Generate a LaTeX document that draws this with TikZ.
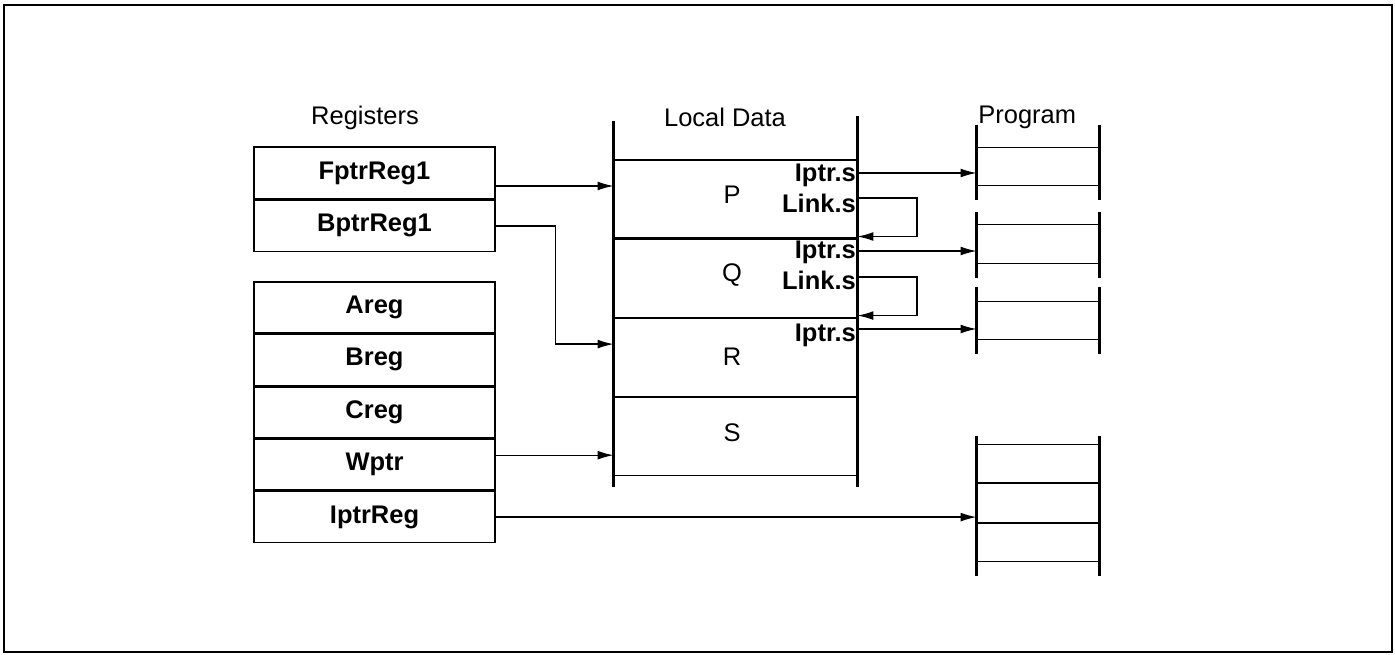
\documentclass[tikz,border=0pt]{standalone}
\usepackage{fontspec}
\setmainfont{Liberation Sans}
\usetikzlibrary{positioning, arrows.meta}
\tikzstyle{reg} = [rectangle, minimum width=4.82cm, minimum height=1.02cm, inner sep=0pt, text centered, draw=black, line width=0.8pt, font=\fontsize{14.5}{17}\selectfont\bfseries]
\tikzstyle{cell} = [rectangle, minimum width=4.86cm, minimum height=1.56cm, inner sep=0pt, draw=black, line width=0.6pt]
\tikzstyle{slot} = [rectangle, minimum width=2.44cm, minimum height=0.77cm, inner sep=0pt, draw=black, line width=0.6pt]
\tikzstyle{field} = [anchor=east, inner sep=0.5pt, font=\fontsize{14.5}{17}\selectfont\bfseries]
\tikzstyle{rail} = [line width=1.2pt]
\tikzstyle{arrow} = [-{Latex[length=9pt,width=5pt]}, line width=0.7pt]

\begin{document}
\begin{tikzpicture}[x=0.02cm, y=-0.02cm, font=\fontsize{14.5}{17}\selectfont, node distance=0cm]
	\useasboundingbox (0,0) rectangle (1395,655);
	\draw[line width=1.2pt] (4,5) rectangle (1392,652);

	% registers
	\node (reglabel) at (365,118) {Registers};
	\node (fptr) [reg, minimum height=1.04cm] at (374.5,173) {FptrReg1};
	\node (bptr) [reg, below=of fptr] {BptrReg1};
	\node (areg) [reg] at (374.5,307.5) {Areg};
	\node (breg) [reg, below=of areg] {Breg};
	\node (creg) [reg, below=of breg] {Creg};
	\node (wptr) [reg, below=of creg] {Wptr};
	\node (iptr) [reg, below=of wptr] {IptrReg};

	% local data
	\node (ldlabel) at (725,117) {Local Data};
	\node (P) [cell] at (735.5,199) {};
	\node (Q) [cell, below=of P] {};
	\node (R) [cell, below=of Q] {};
	\node (S) [cell, below=of R] {};
	\node at ([xshift=-0.07cm, yshift=0.08cm]P.center) {P};
	\node at ([xshift=-0.07cm, yshift=0.06cm]Q.center) {Q};
	\node at ([xshift=-0.07cm]R.center) {R};
	\node at ([xshift=-0.07cm, yshift=0.06cm]S.center) {S};
	\draw[rail] ([yshift=0.76cm]P.north west) -- ([yshift=-0.22cm]S.south west);
	\draw[rail] ([yshift=0.86cm]P.north east) -- ([yshift=-0.22cm]S.south east);
	\node (ipP) [field] at (857,175) {Iptr.s};
	\node (lkP) [field] at (857,203) {Link.s};
	\node (ipQ) [field] at (857,252) {Iptr.s};
	\node (lkQ) [field] at (857,280) {Link.s};
	\node (ipR) [field] at (857,335) {Iptr.s};

	% program
	\node (prlabel) [anchor=west, inner sep=0pt] at (978,117) {Program};
	\node (pa) [slot] at (1038,166.5) {};
	\node (pb) [slot] at (1038,244) {};
	\node (pc) [slot] at (1038,320.5) {};
	\node (pd1) [slot] at (1038,463.5) {};
	\node (pd2) [slot, below=of pd1] {};
	\node (pd3) [slot, below=of pd2] {};
	\foreach \b/\u/\l in {pa/0.44/pa, pb/0.24/pb, pc/0.28/pc, pd1/0.16/pd3} {
		\draw[rail] ([yshift=\u cm]\b.north west) -- ([yshift=-0.28cm]\l.south west);
		\draw[rail] ([yshift=\u cm]\b.north east) -- ([yshift=-0.28cm]\l.south east);
	}

	% connectors
	\coordinate (fout) at ([yshift=-0.26cm]fptr.east);
	\coordinate (rin) at ([yshift=0.26cm]R.west);
	\coordinate (wout) at ([yshift=0.19cm]wptr.east);
	\draw [arrow] (fout) -- (fout -| P.west);
	\draw [arrow] (bptr.east) -- ++(60,0) |- (rin);
	\draw [arrow] (wout) -- (wout -| S.west);
	\draw [arrow] (iptr.east) -- (iptr.east -| pd2.west);
	\draw [arrow] ([yshift=0.04cm]ipP.east) -- ([yshift=0.04cm]ipP.east -| pa.west);
	\draw [arrow] ([yshift=0.02cm]ipQ.east) -- ([yshift=0.02cm]ipQ.east -| pb.west);
	\draw [arrow] ([yshift=0.12cm]ipR.east) -- ([yshift=0.12cm]ipR.east -| pc.west);
	\draw [arrow] ([yshift=0.1cm]lkP.east) -- ++(60,0) |- ([yshift=0.04cm]P.south east);
	\draw [arrow] ([yshift=0.06cm]lkQ.east) -- ++(60,0) |- ([yshift=0.04cm]Q.south east);
\end{tikzpicture}
\end{document}
